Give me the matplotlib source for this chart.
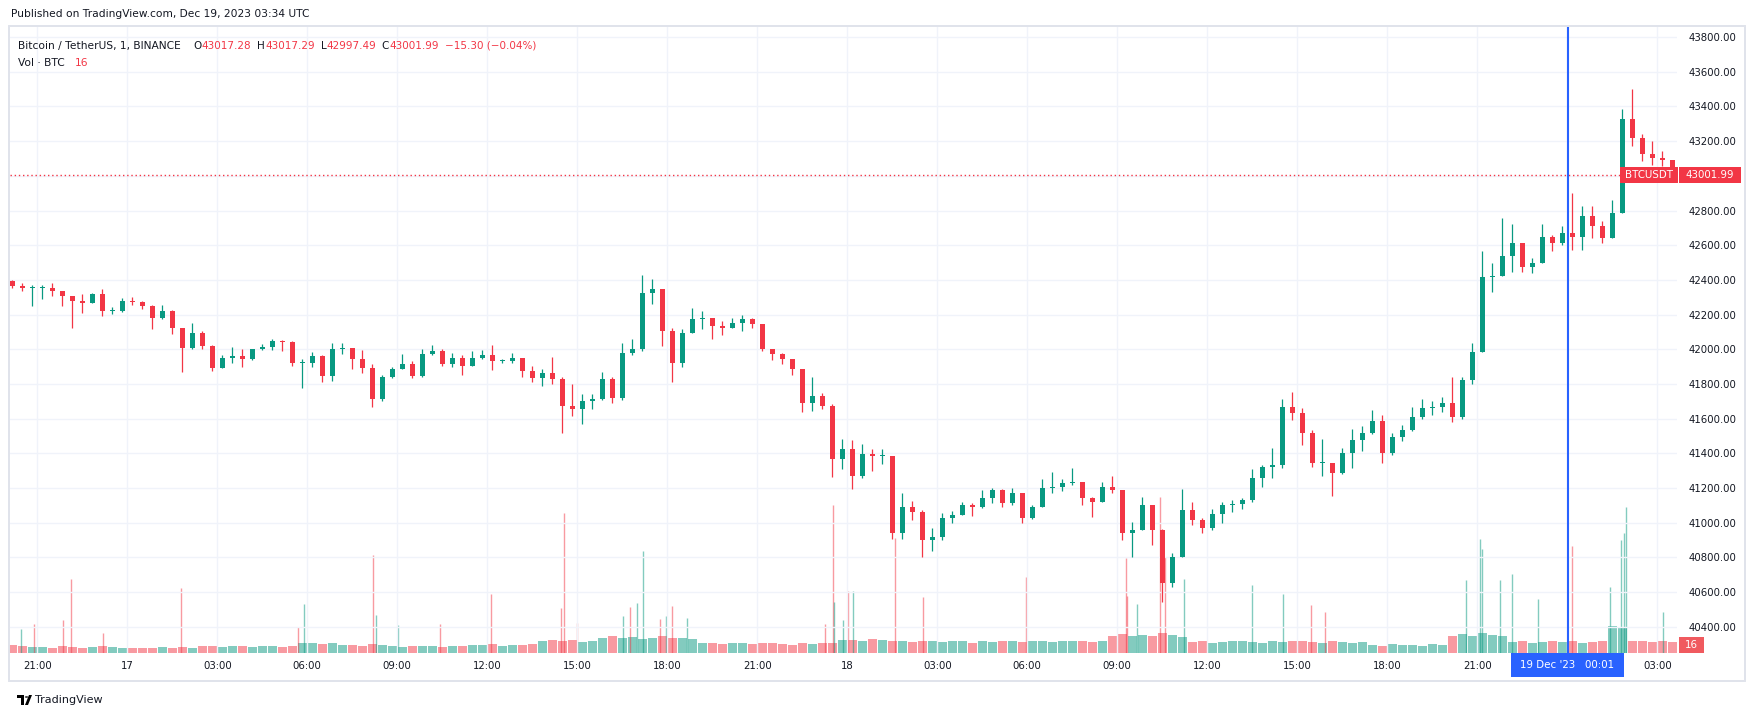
import numpy as np
import matplotlib.pyplot as plt
from matplotlib.patches import Rectangle, Polygon, Circle

W, H = 1755, 716

# BTCUSDT, resampled by eye to 20 minute bars.
# time axis in minutes after Dec 16 2023 21:00 UTC
bar_start = -60
bar_len = 20
first_open = 42395

bar_high = [42400, 42380, 42369, 42373, 42380, 42336, 42307, 42317, 42323, 42346,
            42246, 42298, 42303, 42280, 42254, 42254, 42227, 42125, 42154, 42106,
            42025, 41965, 42015, 42000, 42004, 42029, 42061, 42054, 42048, 41942,
            41985, 41965, 42035, 42035, 42010, 41996, 41913, 41850, 41900, 41971,
            41933, 42000, 42023, 42000, 41981, 41965, 41990, 41996, 42023, 41946,
            41981, 41952, 41904, 41885, 41958, 41840, 41798, 41741, 41741, 41869,
            41840, 42035, 42058, 42426, 42403, 42346, 42125, 42119, 42240, 42221,
            42182, 42163, 42182, 42196, 42182, 42144, 42000, 41981, 41946, 41885,
            41842, 41746, 41683, 41481, 41477, 41452, 41424, 41424, 41385, 41170,
            41125, 41074, 40968, 41054, 41070, 41122, 41112, 41189, 41198, 41193,
            41198, 41170, 41102, 41250, 41295, 41250, 41314, 41237, 41150, 41237,
            41269, 41189, 41006, 41150, 41102, 40965, 40824, 41193, 41122, 41030,
            41080, 41120, 41130, 41145, 41309, 41334, 41430, 41712, 41751, 41660,
            41536, 41482, 41345, 41430, 41539, 41559, 41651, 41622, 41516, 41564,
            41670, 41712, 41699, 41727, 41843, 41843, 42035, 42569, 42500, 42757,
            42724, 42612, 42525, 42724, 42660, 42712, 42901, 42828, 42824, 42737,
            42863, 43384, 43499, 43239, 43200, 43142, 43094]

bar_low = [42355, 42334, 42250, 42288, 42307, 42250, 42123, 42211, 42265, 42192,
           42205, 42215, 42254, 42230, 42119, 42173, 42086, 41869, 42000, 42000,
           41875, 41890, 41919, 41900, 41940, 41996, 41996, 41990, 41904, 41779,
           41900, 41812, 41817, 41971, 41885, 41865, 41670, 41700, 41837, 41885,
           41837, 41842, 41965, 41904, 41900, 41850, 41904, 41946, 41881, 41920,
           41920, 41842, 41812, 41789, 41798, 41520, 41616, 41568, 41654, 41710,
           41693, 41710, 41965, 41990, 42259, 42019, 41812, 41900, 42096, 42115,
           42058, 42085, 42120, 42106, 42125, 41990, 41939, 41915, 41850, 41639,
           41645, 41654, 41266, 41308, 41193, 41260, 41299, 41340, 40905, 40905,
           41016, 40801, 40839, 40901, 41001, 41045, 41039, 41083, 41116, 41093,
           41100, 41001, 41020, 41093, 41170, 41185, 41218, 41102, 41035, 41120,
           41170, 40901, 40805, 40958, 40872, 40545, 40630, 40805, 40987, 40940,
           40960, 41000, 41060, 41080, 41120, 41205, 41257, 41315, 41593, 41449,
           41324, 41267, 41155, 41280, 41315, 41416, 41510, 41343, 41390, 41474,
           41530, 41600, 41620, 41641, 41578, 41600, 41800, 41987, 42330, 42420,
           42448, 42448, 42442, 42496, 42564, 42600, 42573, 42573, 42641, 42612,
           42641, 42786, 43170, 43085, 43065, 43056, 42997]

bar_close = [42365, 42355, 42355, 42355, 42336, 42307, 42279, 42269, 42317, 42221,
             42221, 42279, 42273, 42250, 42182, 42221, 42125, 42010, 42096, 42019,
             41894, 41952, 41961, 41942, 42004, 42015, 42048, 42042, 41923, 41923,
             41961, 41846, 42000, 42010, 41942, 41894, 41712, 41842, 41889, 41913,
             41846, 41971, 41990, 41913, 41952, 41904, 41952, 41965, 41933, 41933,
             41952, 41875, 41837, 41865, 41827, 41673, 41654, 41702, 41712, 41827,
             41721, 41981, 42000, 42327, 42346, 42106, 41923, 42096, 42173, 42182,
             42134, 42125, 42154, 42173, 42144, 42000, 41971, 41942, 41885, 41693,
             41731, 41673, 41366, 41424, 41270, 41395, 41385, 41385, 40943, 41093,
             41064, 40901, 40920, 41026, 41045, 41102, 41093, 41141, 41189, 41112,
             41170, 41026, 41093, 41198, 41208, 41231, 41237, 41141, 41122, 41208,
             41189, 40939, 40958, 41102, 40958, 40651, 40805, 41074, 41016, 40970,
             41050, 41100, 41110, 41130, 41257, 41324, 41334, 41670, 41632, 41516,
             41343, 41343, 41286, 41401, 41478, 41516, 41584, 41401, 41497, 41536,
             41612, 41660, 41670, 41689, 41612, 41824, 41987, 42419, 42420, 42535,
             42612, 42477, 42496, 42650, 42612, 42670, 42650, 42766, 42708, 42641,
             42786, 43330, 43220, 43123, 43104, 43094, 43001.99]

# dense 1-minute volume "carpet", visible level per 20 minute bar (BTC)
carpet_vol = [17, 14, 13, 13, 11, 14, 13, 11, 13, 14,
              13, 11, 11, 10, 11, 13, 11, 13, 11, 14,
              15, 13, 14, 14, 13, 15, 14, 13, 14, 20,
              21, 18, 20, 17, 17, 15, 18, 17, 14, 13,
              15, 14, 14, 13, 15, 14, 17, 17, 18, 15,
              17, 17, 18, 25, 28, 24, 27, 22, 25, 32,
              35, 31, 34, 29, 32, 36, 31, 32, 29, 20,
              21, 18, 20, 20, 18, 21, 20, 18, 17, 20,
              18, 21, 20, 27, 28, 25, 29, 27, 24, 25,
              22, 24, 25, 22, 24, 25, 21, 24, 22, 25,
              24, 22, 25, 24, 22, 24, 25, 24, 22, 24,
              36, 39, 35, 38, 36, 42, 38, 34, 22, 24,
              21, 22, 24, 25, 22, 21, 24, 22, 25, 24,
              22, 21, 24, 22, 21, 22, 17, 15, 18, 17,
              17, 15, 18, 17, 36, 39, 35, 41, 38, 36,
              22, 24, 21, 22, 25, 22, 24, 21, 22, 24,
              56, 53, 25, 24, 22, 24, 22]

# single-minute volume spikes: minute, BTC, green?
spike_t = [-32, -7, 51, 67, 132, 287, 521, 533, 671, 678,
           721, 805, 907, 1047, 1053, 1079, 1171, 1185, 1199, 1211,
           1245, 1257, 1269, 1299, 1575, 1591, 1593, 1611, 1621, 1632,
           1716, 1771, 1977, 2177, 2179, 2199, 2245, 2255, 2293, 2429,
           2492, 2547, 2575, 2857, 2885, 2889, 2925, 2949, 3001, 3069,
           3145, 3167, 3173, 3177, 3251]
spike_vol = [50, 60, 68, 153, 42, 136, 54, 101, 203, 80,
             58, 61, 123, 94, 291, 63, 76, 96, 103, 213,
             71, 76, 97, 73, 61, 307, 106, 68, 129, 129,
             240, 116, 159, 197, 118, 101, 325, 200, 153, 141,
             123, 100, 85, 152, 238, 217, 152, 165, 113, 222,
             137, 234, 250, 304, 85]
spike_up = [1, 0, 0, 0, 0, 0, 0, 1, 0, 1,
            1, 0, 0, 0, 0, 0, 1, 0, 1, 1,
            0, 1, 0, 1, 0, 0, 1, 1, 0, 1,
            0, 0, 0, 0, 0, 1, 0, 0, 1, 1,
            1, 0, 0, 1, 1, 1, 1, 1, 1, 0,
            1, 1, 1, 1, 1]

# the "19" day label sits under the cursor tag, so only its gridline shows
time_ticks = [0, 180, 360, 540, 720, 900, 1080, 1260, 1440, 1620,
              1800, 1980, 2160, 2340, 2520, 2700, 2880, 3240]
time_labels = ['21:00', '17', '03:00', '06:00', '09:00', '12:00', '15:00', '18:00', '21:00', '18',
               '03:00', '06:00', '09:00', '12:00', '15:00', '18:00', '21:00', '03:00']
price_ticks = [40400, 40600, 40800, 41000, 41200, 41400, 41600, 41800,
               42000, 42200, 42400, 42600, 42800, 43000, 43200, 43400, 43600, 43800]

last_price = 43001.99
last_vol = 16
cursor_t = 3061

UP = '#089981'
DOWN = '#f23645'
TXT = '#131722'


def fx(px):
    return px / W


def fy(py):
    return 1 - py / H


def tag(x0, x1, y0, y1, color, text, size=7.4):
    fig.add_artist(Rectangle((fx(x0), fy(y1)), fx(x1) - fx(x0), fy(y0) - fy(y1),
                             transform=fig.transFigure, color=color, lw=0, zorder=20))
    fig.text(fx((x0 + x1) / 2), fy((y0 + y1) / 2), text, color='white', fontsize=size,
             ha='center', va='center', zorder=21)


fig = plt.figure(figsize=(W / 100, H / 100), dpi=100)
fig.patch.set_facecolor('white')

ax = fig.add_axes([fx(9.5), fy(653), fx(1677) - fx(9.5), fy(27) - fy(653)])
ax2 = ax.twinx()
ax.set_zorder(ax2.get_zorder() + 1)
ax.patch.set_visible(False)

opens = np.array([first_open] + bar_close[:-1])
closes = np.array(bar_close)
highs = np.array(bar_high)
lows = np.array(bar_low)
centers = bar_start + bar_len * np.arange(len(closes)) + bar_len / 2
up = closes >= opens
cols = np.where(up, UP, DOWN)

# volume first (behind)
ax2.bar(centers, carpet_vol, width=bar_len * 0.92, color=cols, alpha=0.5, lw=0)
spike_cols = [UP if s else DOWN for s in spike_up]
ax2.vlines(spike_t, 0, spike_vol, colors=spike_cols, lw=1.0, alpha=0.5)
ax2.set_ylim(0, 1302)
ax2.set_yticks([])
for s in ax2.spines.values():
    s.set_visible(False)

# candles
ax.vlines(centers, lows, highs, colors=cols, lw=0.9, zorder=3)
body = np.maximum(np.abs(closes - opens), 6)
ax.bar(centers, body, bottom=np.minimum(opens, closes), width=10, color=cols, lw=0, zorder=4)

ax.axhline(last_price, color=DOWN, lw=1, ls=(0, (1, 2)), zorder=2)
ax.axvline(3060, color='#f0f3fa', lw=1, zorder=0)
ax.axvline(cursor_t, color='#2962ff', lw=1.5, zorder=5)

ax.set_xlim(-55.6, 3279.4)
ax.set_ylim(40249, 43858)
ax.set_xticks(time_ticks)
ax.set_xticklabels(time_labels)
ax.set_yticks(price_ticks)
ax.set_yticklabels(['%.2f' % p for p in price_ticks])
ax.yaxis.tick_right()
ax.tick_params(axis='y', length=0, pad=8, labelsize=7.3, labelcolor=TXT)
ax.tick_params(axis='x', length=0, pad=6, labelsize=7.3, labelcolor=TXT)
ax.grid(True, color='#f0f3fa', lw=1)
ax.set_axisbelow(True)
for s in ax.spines.values():
    s.set_visible(False)

# outer frame
fig.add_artist(Rectangle((fx(9), fy(681)), fx(1745) - fx(9), fy(26) - fy(681),
                         transform=fig.transFigure, fill=False, ec='#e0e3eb', lw=1.4))

# header + legend
fig.text(fx(10.7), fy(14), 'Published on TradingView.com, Dec 19, 2023 03:34 UTC',
         fontsize=7.7, color=TXT, va='center')
fig.text(fx(17.9), fy(46), 'Bitcoin / TetherUS, 1, BINANCE', fontsize=7.7, color=TXT, va='center')
legend_parts = [(193, 'O', TXT), (201.5, '43017.28', DOWN), (257, 'H', TXT), (265.5, '43017.29', DOWN),
                (321, 'L', TXT), (326.5, '42997.49', DOWN), (381, 'C', TXT), (389, '43001.99', DOWN),
                (444.6, '\u221215.30 (\u22120.04%)', DOWN)]
for xp, s, c in legend_parts:
    fig.text(fx(xp), fy(46), s, fontsize=7.5, color=c, va='center')
fig.text(fx(17.9), fy(63), 'Vol \u00b7 BTC', fontsize=7.7, color=TXT, va='center')
fig.text(fx(75), fy(63), str(last_vol), fontsize=7.7, color=DOWN, va='center')

# price / volume / time tags
tag(1620, 1678, 166.5, 183, DOWN, 'BTCUSDT')
tag(1679, 1741, 166.5, 183, DOWN, '%.2f' % last_price)
tag(1679, 1704, 637, 653, '#f05a5f', str(last_vol))
tag(1511, 1624, 653, 677, '#2962ff', "19 Dec '23   00:01")

# footer logo
fig.add_artist(Rectangle((fx(17), fy(698)), fx(24) - fx(17), fy(695) - fy(698),
                         transform=fig.transFigure, color='black', lw=0))
fig.add_artist(Rectangle((fx(20.5), fy(705)), fx(24) - fx(20.5), fy(695) - fy(705),
                         transform=fig.transFigure, color='black', lw=0))
fig.add_artist(Circle((fx(26.5), fy(697)), 1.7 / W, transform=fig.transFigure, color='black', lw=0))
fig.add_artist(Polygon([(fx(25), fy(705)), (fx(29), fy(695)), (fx(32), fy(695)), (fx(28), fy(705))],
                       closed=True, transform=fig.transFigure, color='black', lw=0))
fig.text(fx(35), fy(700), 'TradingView', fontsize=8, color=TXT, va='center')

fig.savefig('out.png', dpi=100)
